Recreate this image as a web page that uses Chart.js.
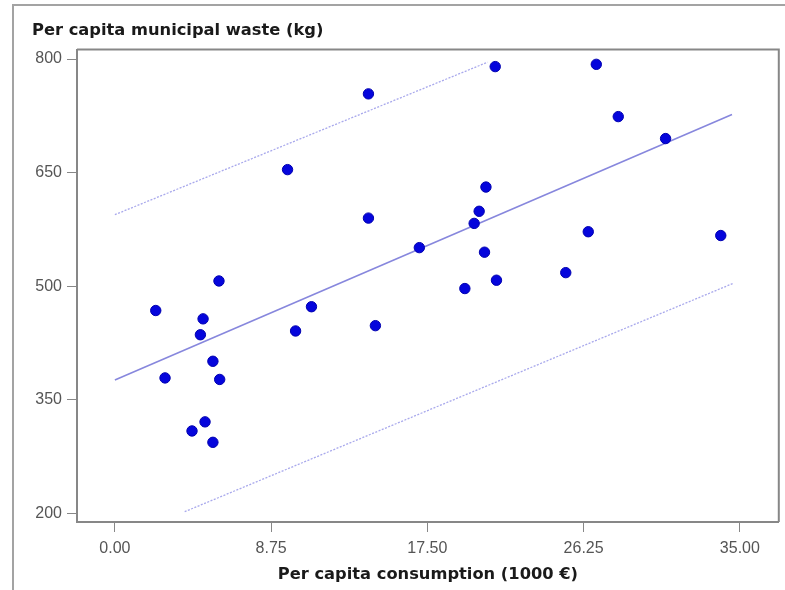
<!DOCTYPE html>
<html>
<head>
<meta charset="utf-8">
<script src="https://cdn.jsdelivr.net/npm/chart.js@4"></script>
<style>
  html, body { margin: 0; padding: 0; background: #fff; }
  #wrap { position: relative; width: 785px; height: 590px; overflow: hidden; }
  #frame { position: absolute; left: 12px; top: 4px; width: 800px; height: 600px;
           border-left: 2px solid #a3a3a3; border-top: 2px solid #a3a3a3; }
  #chart { position: absolute; left: 0; top: 0; }
</style>
</head>
<body>
<div id="wrap">
  <div id="frame"></div>
  <canvas id="chart" width="785" height="590"></canvas>
</div>
<script>
// Countries: consumption per head (1000 €) vs municipal waste per head (kg)
var consumption = [2.29, 2.81, 4.32, 4.79, 4.94, 5.05, 5.49, 5.49, 5.83, 5.87,
                   9.67, 10.12, 11.01, 14.20, 14.20, 14.59, 17.05, 19.60, 20.12, 20.40,
                   20.78, 20.70, 21.37, 21.30, 25.25, 26.51, 26.96, 28.19, 30.84, 33.93]
var waste       = [468, 379, 309, 436, 457, 321, 401, 294, 507, 377,
                   654, 441, 473, 754, 590, 448, 551, 497, 583, 599,
                   631, 545, 508, 790, 518, 572, 793, 724, 695, 567]

// fitted line and the two prediction limits
var fitX   = [0, 34.56],   fitY   = [376.4, 726.7]
var upperX = [0, 20.87],   upperY = [594.5, 795.8]
var lowerX = [3.91, 34.66], lowerY = [202.4, 504.2]

var xTicks = [0, 8.75, 17.5, 26.25, 35]
var yTicks = [200, 350, 500, 650, 800]

function pairs(xs, ys){
  return xs.map(function(x, i){ return { x: x, y: ys[i] } })
}

var axisGrey = '#878787'
var tickFont = { family: 'Liberation Sans, Arial, sans-serif', size: 16 }
var titleFont = { family: 'DejaVu Sans, Verdana, sans-serif', size: 16.3, weight: 'bold' }

// closes the plot box on the top and right
var boxPlugin = {
  id: 'box',
  afterDraw: function(chart){
    var a = chart.chartArea, ctx = chart.ctx
    ctx.save()
    ctx.strokeStyle = axisGrey
    ctx.lineWidth = 2
    ctx.beginPath()
    ctx.moveTo(a.left, a.top)
    ctx.lineTo(a.right, a.top)
    ctx.lineTo(a.right, a.bottom)
    ctx.stroke()
    ctx.restore()
  }
}

new Chart(document.getElementById('chart'), {
  type: 'scatter',
  data: {
    datasets: [
      {
        label: 'Countries',
        data: pairs(consumption, waste),
        backgroundColor: '#0505dc',
        borderColor: '#0000b0',
        borderWidth: 1,
        pointRadius: 5.2,
        order: 0
      },
      {
        type: 'line',
        label: 'Fit',
        data: pairs(fitX, fitY),
        borderColor: '#8787dd',
        borderWidth: 1.6,
        pointRadius: 0,
        fill: false,
        order: 1
      },
      {
        type: 'line',
        label: 'Upper',
        data: pairs(upperX, upperY),
        borderColor: '#a9a9ec',
        borderWidth: 1.3,
        borderDash: [2, 1.5],
        pointRadius: 0,
        fill: false,
        order: 1
      },
      {
        type: 'line',
        label: 'Lower',
        data: pairs(lowerX, lowerY),
        borderColor: '#a9a9ec',
        borderWidth: 1.3,
        borderDash: [2, 1.5],
        pointRadius: 0,
        fill: false,
        order: 1
      }
    ]
  },
  options: {
    responsive: false,
    animation: false,
    layout: { padding: { left: 32, right: 5, top: 0, bottom: 0 } },
    plugins: {
      legend: { display: false },
      tooltip: { enabled: false },
      title: {
        display: true,
        text: 'Per capita municipal waste (kg)',
        align: 'start',
        color: '#1a1a1a',
        font: titleFont,
        padding: { top: 21, bottom: 9 }
      }
    },
    scales: {
      x: {
        type: 'linear',
        min: -2.12,
        max: 37.18,
        afterBuildTicks: function(s){ s.ticks = xTicks.map(function(v){ return { value: v } }) },
        afterFit: function(s){ s.height = 68 },
        ticks: {
          color: '#555',
          font: tickFont,
          padding: 7,
          maxRotation: 0,
          callback: function(v){ return Number(v).toFixed(2) }
        },
        grid: { drawOnChartArea: false, drawTicks: true, tickLength: 10, color: axisGrey, lineWidth: 1 },
        border: { display: true, color: axisGrey, width: 2 },
        title: {
          display: true,
          text: 'Per capita consumption (1000 €)',
          color: '#1a1a1a',
          font: titleFont,
          padding: { top: 0, bottom: 5 }
        }
      },
      y: {
        type: 'linear',
        min: 188.8,
        max: 812.5,
        afterBuildTicks: function(s){ s.ticks = yTicks.map(function(v){ return { value: v } }) },
        afterFit: function(s){ s.width = 45 },
        ticks: {
          color: '#555',
          font: tickFont,
          padding: 5,
          callback: function(v){ return String(v) }
        },
        grid: { drawOnChartArea: false, drawTicks: true, tickLength: 10, color: axisGrey, lineWidth: 1 },
        border: { display: true, color: axisGrey, width: 2 }
      }
    }
  },
  plugins: [boxPlugin]
})
</script>
</body>
</html>
